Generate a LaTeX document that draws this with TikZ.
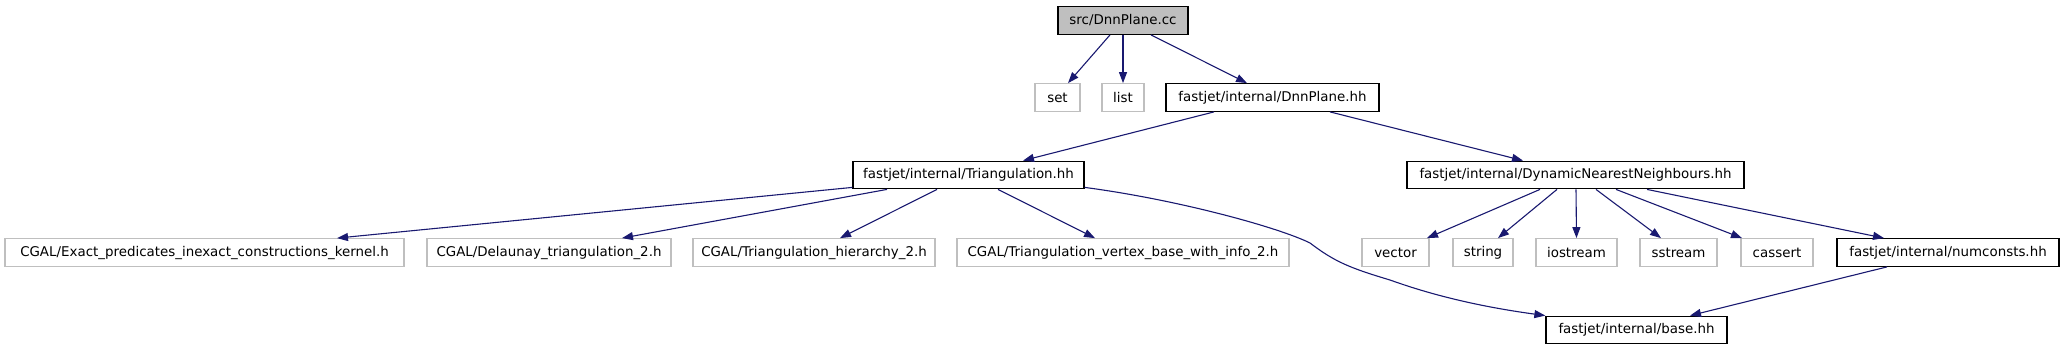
\documentclass[tikz,border=0pt]{standalone}
\usepackage{fontspec}
\setmainfont{DejaVu Sans}
\usetikzlibrary{arrows.meta}
\definecolor{edgeblue}{HTML}{191970}
\definecolor{boxgray}{HTML}{BFBFBF}
\begin{document}
\begin{tikzpicture}[x=1pt,y=-1pt,
  box/.style={rectangle, inner sep=0pt, minimum height=27.5pt, font=\fontsize{13.4}{16}\selectfont, line width=1.3pt, anchor=center},
  intbox/.style={box, draw=black},
  extbox/.style={box, draw=boxgray},
  rootbox/.style={box, draw=black, fill=boxgray},
  dep/.style={draw=edgeblue, line width=1.1pt, -{Triangle[length=11pt,width=8pt]}}
]
\useasboundingbox (0,0) rectangle (2064,349);
% level 0
\node[rootbox, minimum width=130pt] (src) at (1123,20.5) {src/DnnPlane.cc};
% level 1
\node[extbox, minimum width=45pt] (set) at (1057.5,97.5) {set};
\node[extbox, minimum width=42pt] (list) at (1123,97.5) {list};
\node[intbox, minimum width=213pt] (dnn) at (1272.5,97.5) {fastjet/internal/DnnPlane.hh};
% level 2
\node[intbox, minimum width=231pt] (tri) at (968.5,175) {fastjet/internal/Triangulation.hh};
\node[intbox, minimum width=337pt] (dyn) at (1575.5,175) {fastjet/internal/DynamicNearestNeighbours.hh};
% level 3
\node[extbox, minimum width=399pt] (exact) at (204.5,252.5) {CGAL/Exact\_predicates\_inexact\_constructions\_kernel.h};
\node[extbox, minimum width=244pt] (del) at (549,252.5) {CGAL/Delaunay\_triangulation\_2.h};
\node[extbox, minimum width=242pt] (hier) at (814,252.5) {CGAL/Triangulation\_hierarchy\_2.h};
\node[extbox, minimum width=332pt] (vert) at (1123,252.5) {CGAL/Triangulation\_vertex\_base\_with\_info\_2.h};
\node[extbox, minimum width=67pt] (vector) at (1395.5,252.5) {vector};
\node[extbox, minimum width=60pt] (string) at (1483,252.5) {string};
\node[extbox, minimum width=81pt] (iostream) at (1576.5,252.5) {iostream};
\node[extbox, minimum width=77pt] (sstream) at (1678.5,252.5) {sstream};
\node[extbox, minimum width=72pt] (cassert) at (1777,252.5) {cassert};
\node[intbox, minimum width=222pt] (num) at (1948,252.5) {fastjet/internal/numconsts.hh};
% level 4
\node[intbox, minimum width=181pt] (base) at (1636.5,330) {fastjet/internal/base.hh};
% edges
\draw[dep] ([xshift=-13pt]src.south) -- ([xshift=10.5pt]set.north);
\draw[dep] (src.south) -- (list.north);
\draw[dep] ([xshift=28pt]src.south) -- ([xshift=-25.5pt]dnn.north);
\draw[dep] ([xshift=-58.5pt]dnn.south) -- ([xshift=54.5pt]tri.north);
\draw[dep] ([xshift=57.5pt]dnn.south) -- ([xshift=-52.5pt]dyn.north);
\draw[dep] ([yshift=2pt]tri.south west) -- ([xshift=132.5pt]exact.north);
\draw[dep] ([xshift=-81.5pt]tri.south) -- ([xshift=73pt]del.north);
\draw[dep] ([xshift=-31.5pt]tri.south) -- ([xshift=26pt]hier.north);
\draw[dep] ([xshift=29.5pt]tri.south) -- ([xshift=-28pt]vert.north);
\draw[dep] ([yshift=2pt]tri.south east) .. controls (1180,200) and (1280,228) .. (1310,243)
   .. controls (1335,262) and (1350,268) .. (1390,280)
   .. controls (1440,298) and (1490,308) .. (base.north west);
\draw[dep] ([xshift=-35.5pt]dyn.south) -- ([xshift=31.5pt]vector.north);
\draw[dep] ([xshift=-18.5pt]dyn.south) -- ([xshift=15pt]string.north);
\draw[dep] ([xshift=0.5pt]dyn.south) -- (iostream.north);
\draw[dep] ([xshift=20.5pt]dyn.south) -- ([xshift=-17.5pt]sstream.north);
\draw[dep] ([xshift=40.5pt]dyn.south) -- ([xshift=-35pt]cassert.north);
\draw[dep] ([xshift=71.5pt]dyn.south) -- ([xshift=-64pt]num.north);
\draw[dep] ([xshift=-61pt]num.south) -- ([xshift=53.5pt]base.north);
\end{tikzpicture}
\end{document}
